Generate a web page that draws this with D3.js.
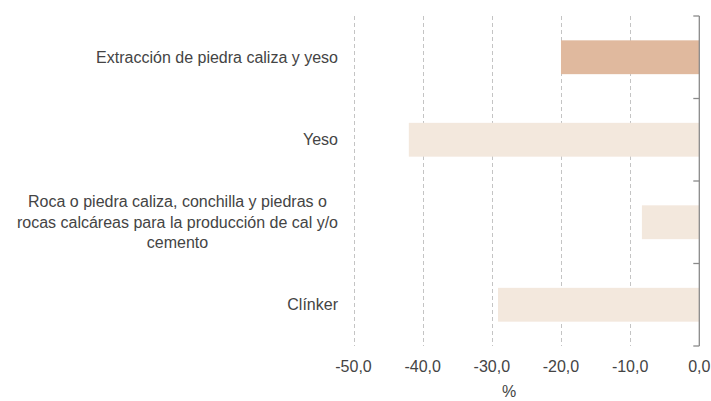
<!DOCTYPE html>
<html>
<head>
<meta charset="utf-8">
<script src="https://cdn.jsdelivr.net/npm/d3@7"></script>
<style>
  body { margin: 0; background: #fff; }
  svg { font-family: "Liberation Sans", Arial, sans-serif; }
  .grid line { stroke: #c4c4c4; stroke-dasharray: 4 3; }
  .tick-label { font-size: 16px; fill: #444; }
  .cat-label { font-size: 16px; fill: #444; }
</style>
</head>
<body>
<svg id="chart" width="711" height="401"></svg>
<script>
// categories, top to bottom (line breaks as in the picture)
var categories = [
  'Extracción de piedra caliza y yeso',
  'Yeso',
  'Roca o piedra caliza, conchilla y piedras o\nrocas calcáreas para la producción de cal y/o\ncemento',
  'Clínker'
];
var values = [-20.0, -42.0, -8.3, -29.1];
var highlighted = [true, false, false, false];
var xTicks = [-50, -40, -30, -20, -10, 0];
var axisTitle = '%';

var svg = d3.select('#chart');

var x = d3.scaleLinear()
  .domain([-50, 0])
  .range([353.5, 699.3]);

var y = d3.scaleBand()
  .domain(d3.range(categories.length))
  .range([16, 346])
  .paddingInner(0.59)
  .paddingOuter(0.295);

var fmt = function(v) {
  return d3.format('.1f')(v).replace('.', ',').replace('−', '-');
};

// vertical dashed gridlines
svg.append('g')
  .attr('class', 'grid')
  .selectAll('line')
  .data(xTicks.slice(0, -1))
  .enter()
  .append('line')
  .attr('x1', function(d) { return Math.round(x(d)) + 0.5; })
  .attr('x2', function(d) { return Math.round(x(d)) + 0.5; })
  .attr('y1', 16)
  .attr('y2', 346);

// bars
svg.append('g')
  .selectAll('rect')
  .data(values)
  .enter()
  .append('rect')
  .attr('x', function(d) { return x(d); })
  .attr('width', function(d) { return x(0) - x(d); })
  .attr('y', function(d, i) { return y(i); })
  .attr('height', y.bandwidth())
  .attr('fill', function(d, i) { return highlighted[i] ? '#e0b99e' : '#f3e8dd'; });

// vertical axis at zero with ticks between bands
var bounds = d3.range(categories.length + 1).map(function(i) {
  return 16 + i * (330 / categories.length);
});
var ax = svg.append('g').attr('stroke', '#8a8a8a').attr('stroke-width', 1.3);
ax.append('line')
  .attr('x1', x(0)).attr('x2', x(0))
  .attr('y1', 16).attr('y2', 346);
ax.selectAll('.tk')
  .data(bounds)
  .enter()
  .append('line')
  .attr('x1', x(0) - 6).attr('x2', x(0))
  .attr('y1', function(d) { return d; })
  .attr('y2', function(d) { return d; });

// x tick labels
svg.append('g')
  .selectAll('text')
  .data(xTicks)
  .enter()
  .append('text')
  .attr('class', 'tick-label')
  .attr('x', function(d) { return x(d); })
  .attr('y', 372)
  .attr('text-anchor', 'middle')
  .text(fmt);

svg.append('text')
  .attr('class', 'tick-label')
  .attr('x', 509)
  .attr('y', 397)
  .attr('text-anchor', 'middle')
  .text(axisTitle);

// category labels
var labelRight = 338;
var lineH = 20.5;
categories.forEach(function(c, i) {
  var lines = c.split('\n');
  var cy = y(i) + y.bandwidth() / 2;
  var t = svg.append('text')
    .attr('class', 'cat-label');
  lines.forEach(function(l, j) {
    t.append('tspan')
      .attr('y', cy + (j - (lines.length - 1) / 2) * lineH + 5.5)
      .text(l);
  });
  if (lines.length === 1) {
    t.attr('text-anchor', 'end');
    t.selectAll('tspan').attr('x', labelRight);
  } else {
    var maxW = 0;
    t.selectAll('tspan').each(function() {
      maxW = Math.max(maxW, this.getComputedTextLength());
    });
    t.attr('text-anchor', 'middle');
    t.selectAll('tspan').attr('x', labelRight - maxW / 2);
  }
});
</script>
</body>
</html>
